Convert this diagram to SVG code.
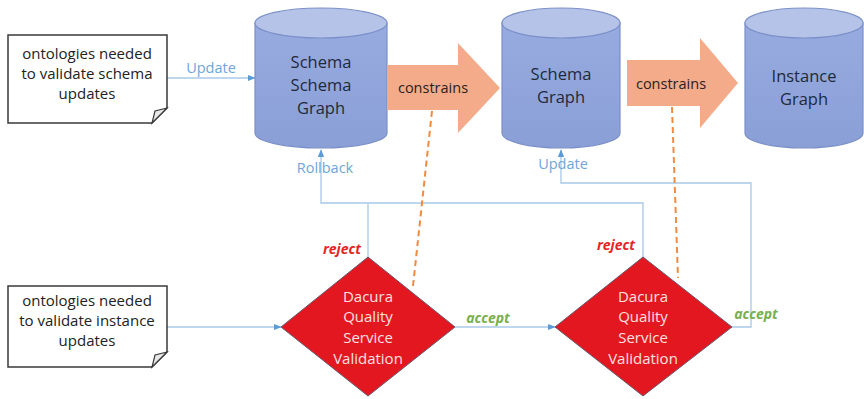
<svg xmlns="http://www.w3.org/2000/svg" width="864" height="399" viewBox="0 0 864 399">
<defs>
<style>
.note{fill:#fff;stroke:#3a3a3a;stroke-width:1.5}
.fold{fill:#e8e8e8;stroke:#3a3a3a;stroke-width:1.2}
.nt{font-family:"Open Sans","Liberation Sans",sans-serif;font-size:15px;fill:#222;text-anchor:middle}
.cyl{fill:url(#cg);stroke:#7b90c8;stroke-width:1.2}
.cyltop{fill:#b6c3e8;stroke:#7b90c8;stroke-width:1.2}
.ct{font-family:"Open Sans","Liberation Sans",sans-serif;font-size:16.5px;fill:#1e2a3a;text-anchor:middle}
.arr{fill:#f4ab8a}
.at{font-family:"Open Sans","Liberation Sans",sans-serif;font-size:14.5px;fill:#2a2020;text-anchor:middle}
.dia{fill:#e2171f;stroke:#6a5a70;stroke-width:1}
.dt{font-family:"Open Sans","Liberation Sans",sans-serif;font-size:15px;fill:#f8e0e0;text-anchor:middle}
.con{fill:none;stroke:#a8c8e8;stroke-width:1.3}
.dash{fill:none;stroke:#f08a40;stroke-width:2;stroke-dasharray:6,4}
.bl{font-family:"Open Sans","Liberation Sans",sans-serif;font-size:14.5px;fill:#6ea6d8}
.rej{font-family:"Open Sans","Liberation Sans",sans-serif;font-size:14px;font-weight:bold;font-style:italic;fill:#e42525}
.acc{font-family:"Open Sans","Liberation Sans",sans-serif;font-size:14px;font-weight:bold;font-style:italic;fill:#77b04c}
</style>
<linearGradient id="cg" x1="0" y1="0" x2="0" y2="1">
<stop offset="0" stop-color="#97abe0"/>
<stop offset="1" stop-color="#8a9fd6"/>
</linearGradient>
<marker id="ah" viewBox="0 0 10 10" refX="9" refY="5" markerWidth="6" markerHeight="6" orient="auto">
<path d="M0,1 L10,5 L0,9 Z" fill="#5b9bd5"/>
</marker>
</defs>

<g id="connectors">
<line class="con" x1="167" y1="78" x2="255" y2="78" marker-end="url(#ah)"/>
<line class="con" x1="167" y1="327" x2="281" y2="327" marker-end="url(#ah)"/>
<line class="con" x1="455" y1="327" x2="555" y2="327" marker-end="url(#ah)"/>
<polyline class="con" points="643,257 643,203 321,203 321,150" marker-end="url(#ah)"/>
<line class="con" x1="368" y1="257" x2="368" y2="203"/>
<polyline class="con" points="732,327 751,327 751,183 561,183 561,150" marker-end="url(#ah)"/>
<line class="dash" x1="432" y1="111" x2="413" y2="286"/>
<line class="dash" x1="672" y1="107" x2="678" y2="278"/>
<text class="bl" x="211" y="73" text-anchor="middle">Update</text>
<text class="bl" x="325" y="173" text-anchor="middle">Rollback</text>
<text class="bl" x="563" y="169" text-anchor="middle">Update</text>
<text class="rej" x="342" y="254" text-anchor="middle">reject</text>
<text class="rej" x="616" y="250" text-anchor="middle">reject</text>
<text class="acc" x="488" y="323" text-anchor="middle">accept</text>
<text class="acc" x="756" y="319" text-anchor="middle">accept</text>
</g>

<g id="note1">
<path class="note" d="M8,35 H167 V108 L152,123 H8 Z"/>
<path class="fold" d="M167,108 L152,123 L155,111 Z"/>
<text class="nt" x="87" y="59">ontologies needed</text>
<text class="nt" x="87" y="79">to validate schema</text>
<text class="nt" x="87" y="99">updates</text>
</g>

<g id="note2">
<path class="note" d="M8,286 H167 V352 L152,367 H8 Z"/>
<path class="fold" d="M167,352 L152,367 L155,355 Z"/>
<text class="nt" x="87" y="306">ontologies needed</text>
<text class="nt" x="87" y="326">to validate instance</text>
<text class="nt" x="87" y="346">updates</text>
</g>

<g id="schemaSchemaGraph">
<path class="cyl" d="M255,23 V133 A66,15 0 0 0 387,133 V23 Z"/>
<ellipse class="cyltop" cx="321" cy="23" rx="66" ry="15"/>
<text class="ct" x="321" y="68">Schema</text>
<text class="ct" x="321" y="91">Schema</text>
<text class="ct" x="321" y="114">Graph</text>
</g>

<g id="constrains1">
<path class="arr" d="M388,65 H458 V43 L500,88 L458,133 V110 H388 Z"/>
<text class="at" x="433" y="93">constrains</text>
</g>

<g id="schemaGraph">
<path class="cyl" d="M502,23 V133 A59,15 0 0 0 620,133 V23 Z"/>
<ellipse class="cyltop" cx="561" cy="23" rx="59" ry="15"/>
<text class="ct" x="561" y="80">Schema</text>
<text class="ct" x="561" y="103">Graph</text>
</g>

<g id="constrains2">
<path class="arr" d="M627,60 H700 V38 L738,83 L700,128 V106 H627 Z"/>
<text class="at" x="671" y="89">constrains</text>
</g>

<g id="instanceGraph">
<path class="cyl" d="M745,23 V133 A59,15 0 0 0 863,133 V23 Z"/>
<ellipse class="cyltop" cx="804" cy="23" rx="59" ry="15"/>
<text class="ct" x="804" y="82">Instance</text>
<text class="ct" x="804" y="105">Graph</text>
</g>

<g id="dqs1">
<path class="dia" d="M368,257 L455,327 L368,396 L281,327 Z"/>
<text class="dt" x="368" y="302">Dacura</text>
<text class="dt" x="368" y="322">Quality</text>
<text class="dt" x="368" y="343">Service</text>
<text class="dt" x="368" y="364">Validation</text>
</g>

<g id="dqs2">
<path class="dia" d="M643,257 L732,327 L643,396 L555,327 Z"/>
<text class="dt" x="643" y="302">Dacura</text>
<text class="dt" x="643" y="322">Quality</text>
<text class="dt" x="643" y="343">Service</text>
<text class="dt" x="643" y="364">Validation</text>
</g>
</svg>
